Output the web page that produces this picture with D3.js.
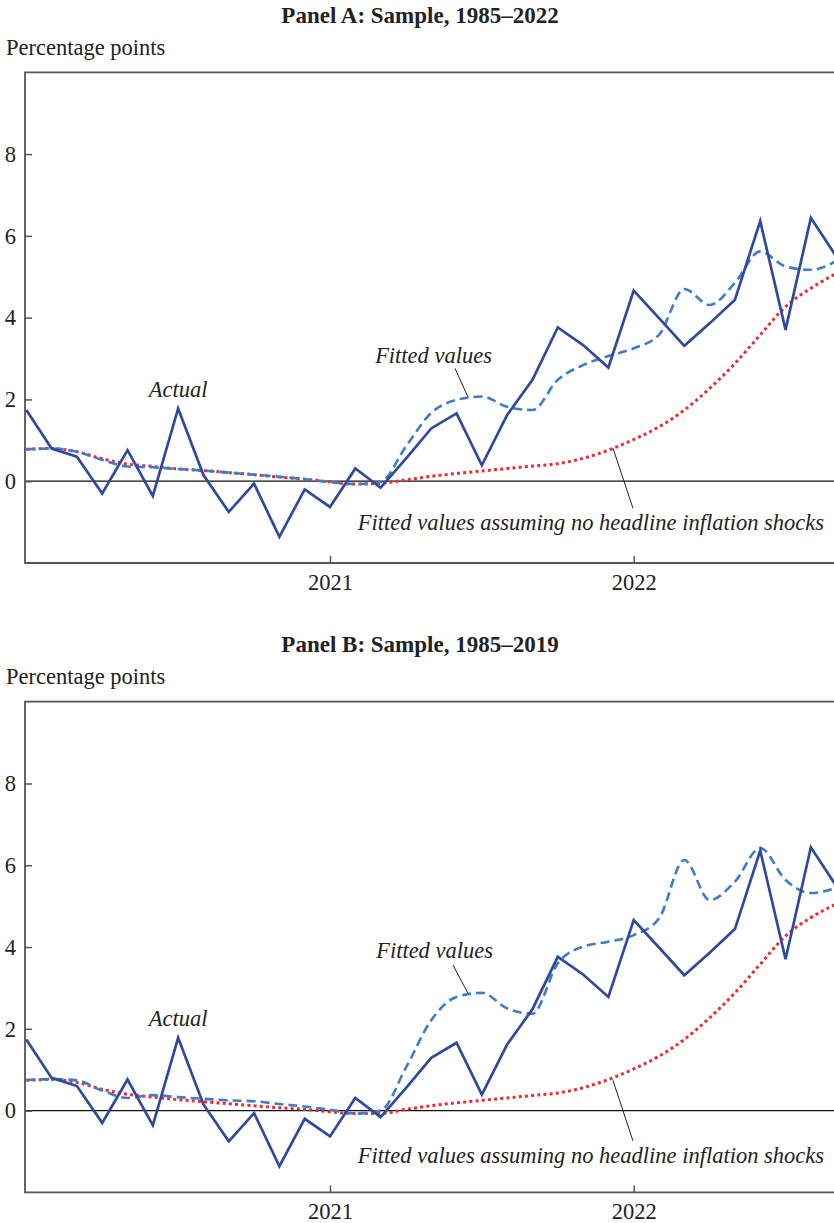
<!DOCTYPE html>
<html>
<head>
<meta charset="utf-8">
<script src="https://cdn.jsdelivr.net/npm/d3@7"></script>
<style>
  body { margin: 0; background: #fff; }
  svg { display: block; font-family: "Liberation Serif", "Times New Roman", serif; }
</style>
</head>
<body>
<script>
// monthly, Jan 2020 (index 0) .. Sep 2022 (index 32)
var actual = [1.74, 0.80, 0.60, -0.30, 0.76, -0.36, 1.78, 0.15, -0.75, -0.06, -1.36, -0.20,
  -0.63, 0.31, -0.16, 0.55, 1.29, 1.66, 0.39, 1.62, 2.48, 3.76, 3.33, 2.78,
  4.66, 3.99, 3.31, 3.86, 4.44, 6.36, 3.70, 6.44, 5.50];

var fittedA = [0.78, 0.80, 0.72, 0.52, 0.36, 0.34, 0.30, 0.26, 0.21, 0.16, 0.11, 0.05,
  -0.02, -0.07, -0.02, 0.85, 1.67, 1.99, 2.07, 1.82, 1.74, 2.48, 2.84, 3.06,
  3.25, 3.58, 4.70, 4.31, 4.85, 5.62, 5.25, 5.17, 5.38];

var noShockA = [0.78, 0.80, 0.72, 0.55, 0.42, 0.36, 0.30, 0.26, 0.21, 0.16, 0.10, 0.05,
  -0.02, -0.07, -0.05, 0.03, 0.12, 0.19, 0.25, 0.31, 0.37, 0.43, 0.56, 0.76,
  1.02, 1.33, 1.74, 2.27, 2.88, 3.58, 4.27, 4.72, 5.08];

var fittedB = [0.75, 0.77, 0.74, 0.49, 0.31, 0.38, 0.33, 0.29, 0.25, 0.23, 0.16, 0.10,
  0.02, -0.07, 0.00, 1.05, 2.21, 2.78, 2.88, 2.50, 2.37, 3.60, 4.01, 4.13,
  4.29, 4.70, 6.13, 5.15, 5.60, 6.42, 5.64, 5.32, 5.45];

var noShockB = [0.74, 0.76, 0.69, 0.52, 0.40, 0.33, 0.27, 0.22, 0.17, 0.12, 0.07, 0.03,
  -0.03, -0.07, -0.07, 0.03, 0.12, 0.19, 0.25, 0.31, 0.37, 0.43, 0.56, 0.76,
  1.02, 1.33, 1.74, 2.27, 2.88, 3.58, 4.27, 4.72, 5.05];

var yTicks = [0, 2, 4, 6, 8];
var xTicks = [12, 24];
var xTickLabels = ["2021", "2022"];

var width = 834, height = 1223,
    fontSize = 22.5;

var svg = d3.select("body").append("svg")
    .attr("width", width)
    .attr("height", height);

var x = d3.scaleLinear()
    .domain([0, 24])
    .range([26.3, 633.7]);

function drawPanel(top, title, fitted, noShock, notes) {
  var g = svg.append("g").attr("transform", "translate(0," + top + ")");
  var plotTop = 72.3, plotBottom = 563;

  var y = d3.scaleLinear()
      .domain([-2, 10])
      .range([plotBottom, plotTop]);

  g.append("text")
      .attr("x", 420)
      .attr("y", 23)
      .attr("text-anchor", "middle")
      .attr("font-weight", "bold")
      .attr("font-size", 23)
      .attr("fill", "#222")
      .text(title);

  g.append("text")
      .attr("x", 6)
      .attr("y", 55)
      .attr("font-size", fontSize)
      .attr("fill", "#222")
      .text("Percentage points");

  // zero line
  g.append("line")
      .attr("x1", 25).attr("x2", width + 10)
      .attr("y1", y(0)).attr("y2", y(0))
      .attr("stroke", "#111")
      .attr("stroke-width", 1.3);

  var yAxis = g.append("g")
      .attr("transform", "translate(25,0)")
      .call(d3.axisLeft(y).tickValues(yTicks).tickSize(-7).tickPadding(9));
  yAxis.select(".domain").remove();
  yAxis.selectAll("line").attr("stroke", "#555").attr("stroke-width", 1.5);
  yAxis.selectAll("text")
      .attr("font-size", fontSize)
      .attr("font-family", "Liberation Serif, Times New Roman, serif")
      .attr("fill", "#222");

  var xAxis = g.append("g")
      .attr("transform", "translate(0," + plotBottom + ")")
      .call(d3.axisBottom(x).tickValues(xTicks).tickSize(-7).tickPadding(11)
        .tickFormat(function(d, i) { return xTickLabels[i]; }));
  xAxis.select(".domain").remove();
  xAxis.selectAll("line").attr("stroke", "#555").attr("stroke-width", 1.5);
  xAxis.selectAll("text")
      .attr("font-size", fontSize)
      .attr("font-family", "Liberation Serif, Times New Roman, serif")
      .attr("fill", "#222");

  // frame (right side runs off the page)
  g.append("path")
      .attr("d", "M" + (width + 10) + "," + plotTop + "H25V" + plotBottom + "H" + (width + 10))
      .attr("fill", "none")
      .attr("stroke", "#555")
      .attr("stroke-width", 1.8);

  var line = d3.line()
      .x(function(d, i) { return x(i); })
      .y(function(d) { return y(d); });

  var smooth = d3.line()
      .curve(d3.curveMonotoneX)
      .x(function(d, i) { return x(i); })
      .y(function(d) { return y(d); });

  g.append("path")
      .datum(noShock)
      .attr("fill", "none")
      .attr("stroke", "#ee2a2e")
      .attr("stroke-width", 3)
      .attr("stroke-dasharray", "3,3.2")
      .attr("d", smooth);

  g.append("path")
      .datum(fitted)
      .attr("fill", "none")
      .attr("stroke", "#3f7cc6")
      .attr("stroke-width", 2.6)
      .attr("stroke-dasharray", "9,5")
      .attr("d", smooth);

  g.append("path")
      .datum(actual)
      .attr("fill", "none")
      .attr("stroke", "#2f4a9c")
      .attr("stroke-width", 2.7)
      .attr("stroke-linejoin", "miter")
      .attr("d", line);

  notes.forEach(function(n) {
    g.append("text")
        .attr("x", x(n.m))
        .attr("y", y(n.v))
        .attr("text-anchor", n.anchor)
        .attr("font-style", "italic")
        .attr("font-size", fontSize)
        .attr("fill", "#222")
        .text(n.text);
    if (n.lead) {
      g.append("line")
          .attr("x1", x(n.lead[0])).attr("y1", y(n.lead[1]))
          .attr("x2", x(n.lead[2])).attr("y2", y(n.lead[3]))
          .attr("stroke", "#222")
          .attr("stroke-width", 1);
    }
  });
}

drawPanel(0, "Panel A: Sample, 1985\u20132022", fittedA, noShockA, [
  {text: "Actual", m: 6, v: 2.06, anchor: "middle"},
  {text: "Fitted values", m: 18.4, v: 2.89, anchor: "end", lead: [16.94, 2.76, 17.45, 2.06]},
  {text: "Fitted values assuming no headline inflation shocks", m: 31.52, v: -1.20, anchor: "end",
    lead: [23.18, 0.81, 23.97, -0.66]}
]);

drawPanel(629.4, "Panel B: Sample, 1985\u20132019", fittedB, noShockB, [
  {text: "Actual", m: 6, v: 2.06, anchor: "middle"},
  {text: "Fitted values", m: 18.44, v: 3.72, anchor: "end", lead: [16.86, 3.56, 17.45, 2.87]},
  {text: "Fitted values assuming no headline inflation shocks", m: 31.52, v: -1.27, anchor: "end",
    lead: [23.18, 0.74, 23.97, -0.74]}
]);
</script>
</body>
</html>
